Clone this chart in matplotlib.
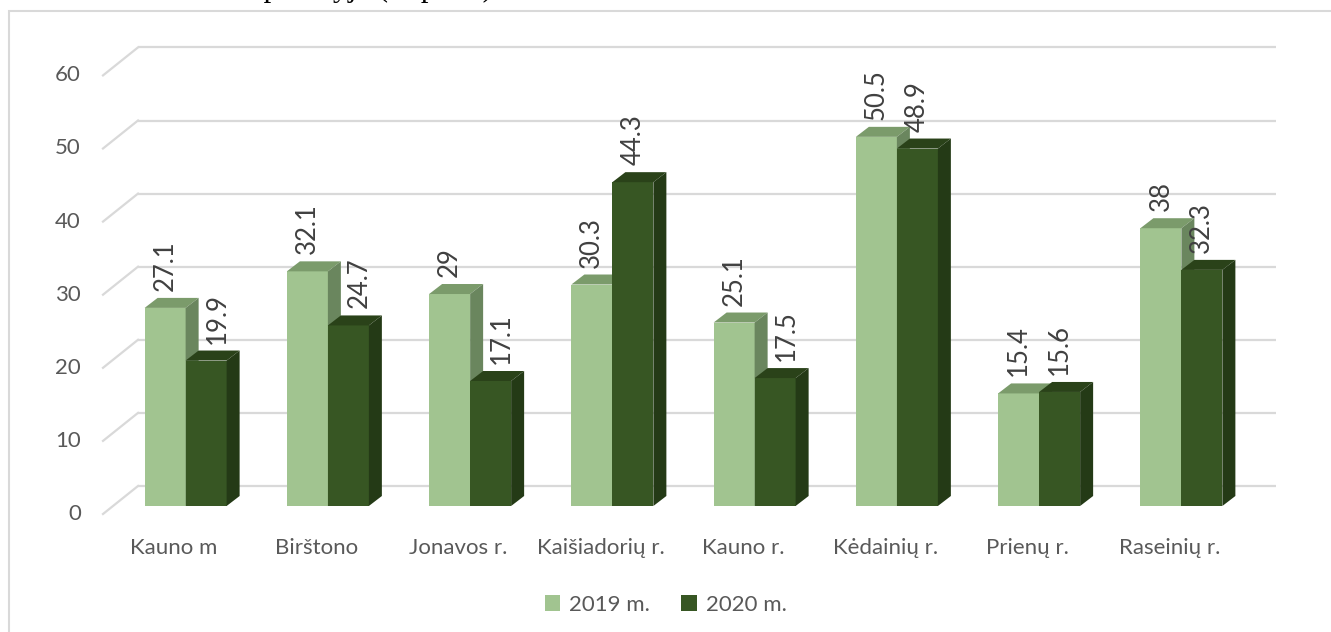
import matplotlib.pyplot as plt
from matplotlib.patches import Polygon, Rectangle

categories = ["Kauno m", "Birštono", "Jonavos r.", "Kaišiadorių r.", "Kauno r.",
              "Kėdainių r.", "Prienų r.", "Raseinių r."]
series_names = ["2019 m.", "2020 m."]
values_2019 = [27.1, 32.1, 29, 30.3, 25.1, 50.5, 15.4, 38]
values_2020 = [19.9, 24.7, 17.1, 44.3, 17.5, 48.9, 15.6, 32.3]
yticks = [0, 10, 20, 30, 40, 50, 60]

FRONT = ["#A1C490", "#375623"]
TOP = ["#7B9B6B", "#2A4219"]
SIDE = ["#6A865E", "#243A16"]
GRID = "#D9D9D9"
TEXT = "#595959"
plt.rcParams["font.family"] = ["Lato", "DejaVu Sans"]

W, H = 1331, 632
fig = plt.figure(figsize=(W / 100, H / 100), dpi=100)
ax = fig.add_axes([0, 0, 1, 1])

# back wall geometry in pixels
SLOT = 142.25   # px per category
UNIT = 7.31     # px per value unit
X0, Y0 = 138, 486
ax.set_xlim(-X0 / SLOT, (W - X0) / SLOT)
ax.set_ylim(-(H - Y0) / UNIT, Y0 / UNIT)
ax.set_axis_off()


def px(dx, dy):
    return dx / SLOT, dy / UNIT


floor_dx, floor_dy = px(-35, -28)
n = len(categories)

# gridlines on back wall and floor diagonals
for t in yticks:
    ax.plot([0, n], [t, t], color=GRID, lw=1.6, zorder=1, solid_capstyle="butt")
    ax.plot([0, floor_dx], [t, t + floor_dy], color=GRID, lw=1.6, zorder=1)
    lx, _ = px(81 - X0, 0)
    ax.text(lx, t + floor_dy, str(t), ha="right", va="center", fontsize=16, color=TEXT)

# bars with pseudo-3D faces
bw, _ = px(41, 0)
off_x, off_y = px(-23.5, -20)
ddx, ddy = px(13, 10)
gap_x, gap_y = px(0, 7)
shift_x, _ = px(11, 0)
z = 2
for i in range(n):
    for s, vals in enumerate([values_2019, values_2020]):
        v = vals[i]
        left = i + 0.5 + off_x - bw + s * bw
        bottom = off_y
        ax.bar(left, v, width=bw, bottom=bottom, align="edge", color=FRONT[s],
               linewidth=0, zorder=z)
        top = bottom + v
        ax.add_patch(Polygon([(left, top), (left + bw, top), (left + bw + ddx, top + ddy),
                              (left + ddx, top + ddy)], closed=True, facecolor=TOP[s],
                             linewidth=0, zorder=z))
        ax.add_patch(Polygon([(left + bw, bottom), (left + bw + ddx, bottom + ddy),
                              (left + bw + ddx, top + ddy), (left + bw, top)], closed=True,
                             facecolor=SIDE[s], linewidth=0, zorder=z))
        z += 1
        lx = left + bw / 2
        if s == 1 and values_2019[i] - v > 6:
            lx += shift_x
        ax.text(lx, top + ddy + gap_y, f"{v:g}", rotation=90, ha="center",
                va="bottom", fontsize=18.5, color="#404040", zorder=50)
    cx = i + 0.5 + floor_dx
    ax.text(cx, (Y0 - 548) / UNIT, categories[i], ha="center", va="center",
            fontsize=16, color=TEXT)

# legend
handles = [Rectangle((0, 0), 1, 1, facecolor=FRONT[k], linewidth=0) for k in range(2)]
fig.legend(handles, series_names, loc="center", bbox_to_anchor=(0.5, 1 - 605 / H), ncol=2,
           frameon=False, fontsize=16, labelcolor=TEXT, handlelength=0.7, handleheight=0.7,
           handletextpad=0.4, columnspacing=1.4)

# chart border
fig.patches.append(Rectangle((9 / W, -0.05), 1.1, 1.05 - 11 / H, transform=fig.transFigure,
                             fill=False, edgecolor=GRID, linewidth=1.5))

# cut-off line of document text above the chart (only descenders show)
fig.text(250 / W, 1 + 4 / H, "apskrityje (% proc.)", family="Liberation Serif",
         fontsize=22, va="baseline", ha="left", color="black")

fig.savefig("out.png", dpi=100)
